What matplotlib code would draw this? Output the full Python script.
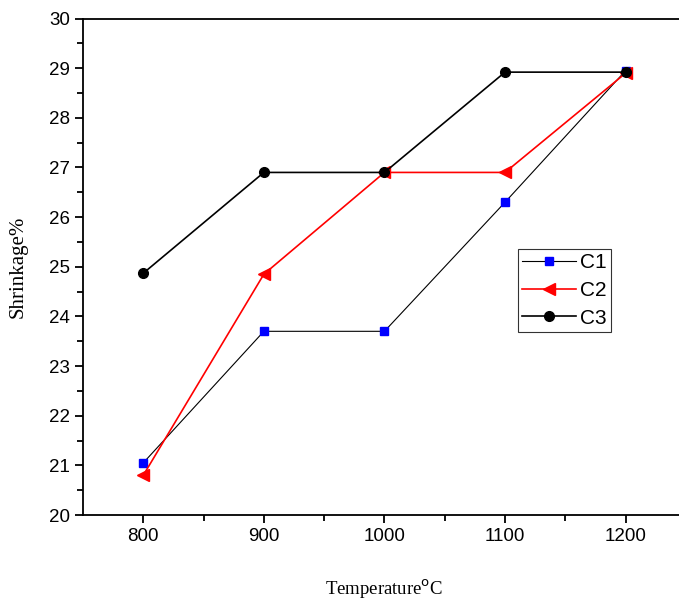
from matplotlib import pyplot as plt

temperature = [800, 900, 1000, 1100, 1200]
c1 = [21.05, 23.7, 23.7, 26.3, 28.95]
c2 = [20.8, 24.85, 26.9, 26.9, 28.9]
c3 = [24.87, 26.9, 26.9, 28.92, 28.92]


def main():
    fig = plt.figure(figsize=(6.79, 6.03), dpi=100, facecolor='white')
    ax = fig.add_axes([0.1222, 0.1459, 0.888, 0.8234])

    ax.plot(temperature, c1, color='black', linewidth=0.8, marker='s', markersize=6,
            markerfacecolor='blue', markeredgecolor='blue', label='C1')
    ax.plot(temperature, c2, color='red', linewidth=1.2, marker='<', markersize=8,
            markerfacecolor='red', markeredgecolor='red', label='C2')
    ax.plot(temperature, c3, color='black', linewidth=1.2, marker='o', markersize=7,
            markerfacecolor='black', markeredgecolor='black', label='C3')

    ax.set_xlim(750, 1250)
    ax.set_ylim(20, 30)
    ax.set_xticks([800, 900, 1000, 1100, 1200])
    ax.set_xticks([850, 950, 1050, 1150], minor=True)
    ax.set_yticks(range(20, 31))
    ax.set_yticks([v + 0.5 for v in range(20, 30)], minor=True)

    ax.tick_params(which='major', direction='out', length=6, width=1.3,
                   labelsize=13.5, top=False, right=False)
    ax.tick_params(which='minor', direction='out', length=4, width=1.3,
                   top=False, right=False)
    for lbl in ax.get_xticklabels() + ax.get_yticklabels():
        lbl.set_family('Liberation Sans')
    for sp in ax.spines.values():
        sp.set_linewidth(1.3)

    ax.set_xlabel('Temperature$^{\\mathrm{o}}$C', family='Liberation Serif', fontsize=13.5, labelpad=23)
    ax.set_ylabel('Shrinkage%', family='Liberation Serif', fontsize=15, labelpad=15)

    leg = ax.legend(loc='upper left', bbox_to_anchor=(0.721, 0.536), frameon=True, fancybox=False,
                    edgecolor='black', prop={'family': 'Liberation Sans', 'size': 15},
                    handlelength=2.6, handletextpad=0.2, borderpad=0.2, labelspacing=0.42,
                    borderaxespad=0)
    leg.get_frame().set_linewidth(0.8)

    fig.savefig('out.png', dpi=100)


if __name__ == '__main__':
    main()
